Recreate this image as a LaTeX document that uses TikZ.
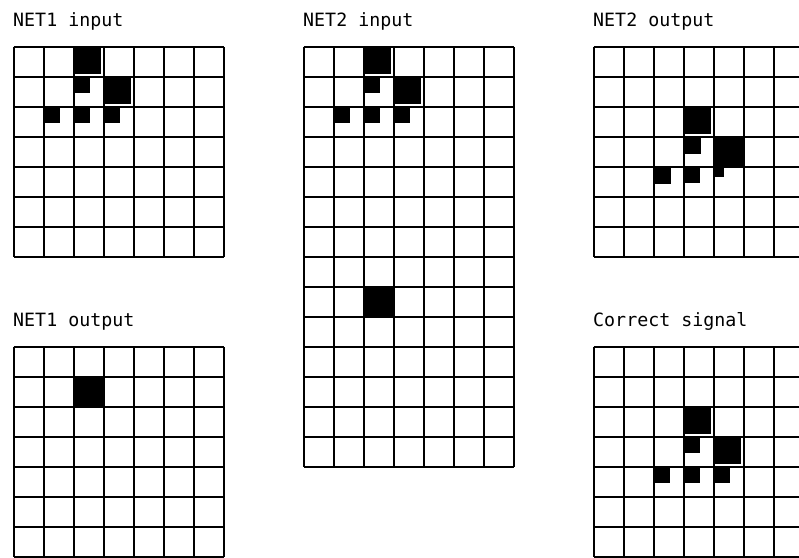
\documentclass[tikz,border=0pt]{standalone}
\usepackage{fontspec}
\setmonofont{DejaVu Sans Mono}
\usepackage{tikz}

\begin{document}
\begin{tikzpicture}[x=1pt, y=-1pt,
        every node/.style={font=\ttfamily\fontsize{18.3}{20}\selectfont, inner sep=0pt, anchor=base west},
        grade/.style={line width=2pt, black},
        cheia/.style={fill=black}
    ]
        \useasboundingbox (0,0) rectangle (799,557);
        \node (net1in) at (13,26) {NET1 input};
        \node (net2in) at (303,26) {NET2 input};
        \node (net2out) at (593,26) {NET2 output};
        \node (net1out) at (13,326) {NET1 output};
        \node (correto) at (593,326) {Correct signal};
        \foreach \ox/\oy/\c/\r/\s in {
            13.5/47/2/0/27, 13.5/47/2/1/16, 13.5/47/3/1/27, 13.5/47/1/2/16, 13.5/47/2/2/16, 13.5/47/3/2/16,
            303.5/47/2/0/27, 303.5/47/2/1/16, 303.5/47/3/1/27, 303.5/47/1/2/16, 303.5/47/2/2/16, 303.5/47/3/2/16, 303.5/47/2/8/30,
            593.5/47/3/2/27, 593.5/47/3/3/17, 593.5/47/4/3/30, 593.5/47/2/4/17, 593.5/47/3/4/16, 593.5/47/4/4/10,
            13.5/347/2/1/30,
            593.5/347/3/2/27, 593.5/347/3/3/16, 593.5/347/4/3/27, 593.5/347/2/4/16, 593.5/347/3/4/16, 593.5/347/4/4/16}
            \fill[cheia] (\ox+30*\c,\oy+30*\r) rectangle ++(\s,\s);
        \foreach \ox/\oy/\nl in {13.5/47/7, 303.5/47/14, 593.5/47/7, 13.5/347/7, 593.5/347/7}{
            \foreach \i in {0,...,7} \draw[grade] (\ox+30*\i,\oy) -- ++(0,30*\nl);
            \foreach \j in {0,...,\nl} \draw[grade] (\ox,\oy+30*\j) -- ++(210,0);
        }
    \end{tikzpicture}
\end{document}
